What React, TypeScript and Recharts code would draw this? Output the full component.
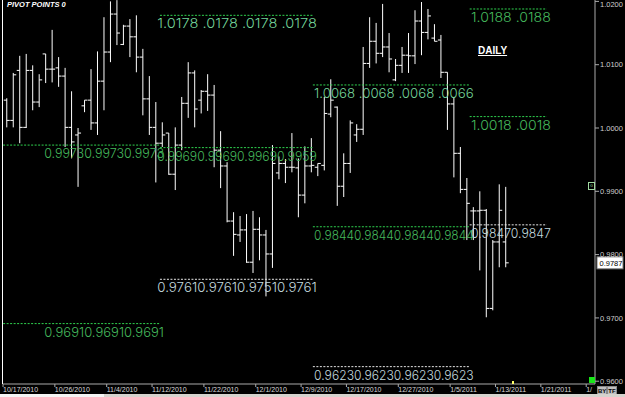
import React from 'react';
import { ComposedChart, Bar, XAxis, YAxis, ReferenceLine } from 'recharts';

// daily OHLC, one entry per bar (Sunday sessions included)
const OPEN = [
  1.0044, 1.0012, 1.0091, 1.0001, 1.0091, 1.0041, 1.0117, 1.0093, 1.0095, 1.0082,
  1.0001, 0.9989, 1.0035, 1.0044, 1.0008, 1.0074, 1.0120, 1.0180, 1.0132, 1.0161,
  1.0144, 1.0112, 1.0046, 1.0001, 0.9976, 0.9992, 0.9927, 0.9973, 1.0039, 1.0087,
  1.0044, 1.0058, 1.0052, 0.9965, 0.9940, 0.9853, 0.9831, 0.9839, 0.9788, 0.9840,
  0.9831, 0.9801, 0.9929, 0.9944, 0.9938, 0.9937, 0.9894, 0.9940, 0.9938, 0.9941,
  1.0022, 1.0033, 0.9908, 0.9944, 0.9989, 0.9998, 1.0102, 1.0137, 1.0118, 1.0128,
  1.0076, 1.0099, 1.0115, 1.0114, 1.0169, 1.0151, 1.0142, 1.0139, 1.0088, 1.0038,
  0.9960, 0.9903, 0.9869, 0.9869, 0.9870, 0.9715, 0.9820, 0.9820,
];
const HIGH = [
  1.0047, 1.0087, 1.0114, 1.0117, 1.0099, 1.0085, 1.0117, 1.0155, 1.0112, 1.0095,
  1.0058, 1.0000, 1.0044, 1.0093, 1.0121, 1.0175, 1.0200, 1.0202, 1.0163, 1.0172,
  1.0178, 1.0125, 1.0082, 1.0041, 1.0009, 0.9992, 1.0001, 1.0049, 1.0104, 1.0091,
  1.0060, 1.0085, 1.0068, 0.9995, 0.9946, 0.9867, 0.9861, 0.9864, 0.9869, 0.9859,
  0.9839, 0.9973, 0.9955, 0.9951, 0.9992, 0.9952, 0.9971, 0.9984, 0.9944, 1.0049,
  1.0077, 1.0034, 0.9960, 1.0012, 1.0006, 1.0128, 1.0175, 1.0166, 1.0196, 1.0150,
  1.0109, 1.0128, 1.0150, 1.0186, 1.0199, 1.0188, 1.0164, 1.0147, 1.0088, 1.0049,
  0.9970, 0.9921, 0.9875, 0.9900, 0.9872, 0.9823, 0.9911, 0.9907,
];
const LOW = [
  1.0001, 1.0001, 0.9976, 1.0000, 1.0028, 1.0033, 1.0071, 1.0072, 1.0065, 0.9970,
  0.9952, 0.9907, 1.0025, 0.9997, 0.9989, 1.0028, 1.0104, 1.0131, 1.0131, 1.0112,
  1.0088, 1.0020, 0.9989, 0.9914, 0.9970, 0.9926, 0.9902, 0.9965, 1.0016, 1.0001,
  1.0023, 1.0027, 0.9938, 0.9905, 0.9851, 0.9798, 0.9820, 0.9787, 0.9771, 0.9791,
  0.9734, 0.9779, 0.9919, 0.9913, 0.9930, 0.9859, 0.9881, 0.9930, 0.9924, 0.9933,
  1.0017, 0.9877, 0.9891, 0.9929, 0.9978, 0.9989, 1.0095, 1.0102, 1.0112, 1.0088,
  1.0074, 1.0087, 1.0087, 1.0101, 1.0115, 1.0140, 1.0137, 1.0079, 0.9997, 0.9922,
  0.9897, 0.9823, 0.9823, 0.9775, 0.9701, 0.9712, 0.9780, 0.9780,
];
const CLOSE = [
  1.0012, 1.0084, 1.0001, 1.0091, 1.0041, 1.0076, 1.0093, 1.0093, 1.0082, 1.0001,
  0.9978, 0.9992, 1.0044, 1.0008, 1.0074, 1.0120, 1.0180, 1.0150, 1.0161, 1.0144,
  1.0112, 1.0046, 1.0001, 0.9976, 0.9989, 0.9927, 0.9973, 1.0039, 1.0087, 1.0030,
  1.0058, 1.0052, 0.9965, 0.9940, 0.9853, 0.9832, 0.9839, 0.9788, 0.9840, 0.9831,
  0.9801, 0.9944, 0.9944, 0.9938, 0.9938, 0.9894, 0.9940, 0.9941, 0.9944, 1.0023,
  1.0044, 0.9908, 0.9944, 1.0008, 0.9998, 1.0102, 1.0137, 1.0118, 1.0128, 1.0109,
  1.0099, 1.0115, 1.0114, 1.0169, 1.0151, 1.0177, 1.0137, 1.0088, 1.0038, 0.9960,
  0.9903, 0.9881, 0.9869, 0.9870, 0.9715, 0.9820, 0.9870, 0.9787,
];

const TICK_INDEX = [0, 8, 16, 23, 31, 39, 46, 53, 61, 69, 76, 83, 90];
const TICK_LABELS = [
  '10/17/2010', '10/26/2010', '11/4/2010', '11/12/2010', '11/22/2010', '12/1/2010',
  '12/9/2010', '12/17/2010', '12/27/2010', '1/5/2011', '1/13/2011', '1/21/2011', '1/30/2011',
];
const PRICE_TICKS = [0.96, 0.97, 0.98, 0.99, 1.0, 1.01, 1.02];

// monthly pivot periods (bar index range)
const SEG_START = [-0.6, 23.6, 47.2, 71.4];
const SEG_END = [23.6, 47.2, 71.4, 83.3];

const PIVOT_SEG = [0, 0, 1, 1, 1, 2, 2, 2, 3, 3, 3];
const PIVOT_VALUE = [0.9973, 0.9691, 1.0178, 0.9969, 0.9761, 1.0068, 0.9844, 0.9623, 1.0188, 1.0018, 0.9847];
const PIVOT_TEXT = [
  '0.99730.99730.9973',
  '0.96910.96910.9691',
  '1.0178 .0178 .0178 .0178',
  '0.99690.99690.99690.9959',
  '0.97610.97610.97510.9761',
  '1.0068 .0068 .0068 .0066',
  '0.98440.98440.98440.9844',
  '0.96230.96230.96230.9623',
  '1.0188 .0188',
  '1.0018 .0018',
  '0.98470.9847',
];
const PIVOT_KIND = ['g', 'g', 'm', 'g', 'w', 'm', 'g', 'w', 'g', 'g', 'w'];

const LAST_PRICE = 0.9787;

const LINE_COLOR: Record<string, string> = { g: '#2fd24f', m: '#2fd24f', w: '#e8e8e8' };
const TEXT_COLOR: Record<string, string> = { g: '#45b85c', m: '#74d49a', w: '#c2d8de' };

const data = OPEN.map((o, i) => ({
  i,
  open: o,
  high: HIGH[i],
  low: LOW[i],
  close: CLOSE[i],
  range: [LOW[i], HIGH[i]],
}));

const OhlcBar = (props: any) => {
  const { x, y, width, height, payload } = props;
  if (x == null || payload == null) return null;
  const cx = x + width / 2;
  const top = Math.min(y, y + height);
  const bot = Math.max(y, y + height);
  const span = payload.high - payload.low || 1;
  const py = (v: number) => top + ((payload.high - v) / span) * (bot - top);
  return (
    <g stroke="#ffffff" strokeWidth={1}>
      <line x1={cx} y1={top} x2={cx} y2={bot} />
      <line x1={cx - 3} y1={py(payload.open)} x2={cx} y2={py(payload.open)} />
      <line x1={cx} y1={py(payload.close)} x2={cx + 3} y2={py(payload.close)} />
    </g>
  );
};

const DateTick = (props: any) => {
  const { x, y, payload } = props;
  const k = TICK_INDEX.indexOf(payload.value);
  const last = k === TICK_INDEX.length - 1;
  return (
    <g>
      <line x1={x - 4} y1={y} x2={x - 4} y2={y + 3} stroke="#aaa" />
      <text x={x - 4} y={y + 8} fill="#d8d8d8" fontSize={7} fontFamily="Liberation Sans, Arial">
        {k >= 0 ? (last ? TICK_LABELS[k].slice(0, 2) : TICK_LABELS[k]) : ''}
      </text>
    </g>
  );
};

const pivotLabel = (text: string, color: string) => (props: any) => {
  const vb = props.viewBox || {};
  const x = (vb.x || 0) + (vb.width || 0) + 4;
  const y = (vb.y || 0) + 13;
  return (
    <text
      x={x}
      y={y}
      fill={color}
      fontSize={13.5}
      fontWeight={300}
      fontFamily="Inter, DejaVu Sans Mono, monospace"
      textAnchor="end"
      textLength={text.length * 6.65}
      lengthAdjust="spacingAndGlyphs"
    >
      {text}
    </text>
  );
};

const priceBox = (props: any) => {
  const vb = props.viewBox || {};
  const x = (vb.x || 0) + (vb.width || 0) + 2;
  const y = vb.y || 0;
  return (
    <g>
      <rect x={x} y={y - 6} width={26} height={12} fill="#ffffff" stroke="#777" />
      <text x={x + 2.5} y={y + 3} fill="#000" fontSize={7.5} fontFamily="Liberation Sans, Arial">
        {LAST_PRICE.toFixed(4)}
      </text>
    </g>
  );
};

export default function App() {
  return (
    <div style={{ position: 'absolute', left: 0, top: 0, width: 625, height: 397, background: '#000', overflow: 'hidden' }}>
      <ComposedChart
        width={625}
        height={397}
        data={data}
        margin={{ top: 0, right: 0, bottom: 0, left: 3 }}
        style={{ fontFamily: 'Liberation Sans, Arial' }}
      >
        <XAxis
          dataKey="i"
          type="number"
          domain={[-0.62, 90.74]}
          allowDataOverflow
          ticks={TICK_INDEX}
          interval={0}
          height={13}
          tickSize={0}
          tickMargin={0}
          axisLine={{ stroke: '#aaa' }}
          tickLine={false}
          tick={<DateTick />}
        />
        <YAxis
          orientation="right"
          type="number"
          domain={[0.95956, 1.02022]}
          allowDataOverflow
          ticks={PRICE_TICKS}
          width={30}
          tickSize={4}
          tickMargin={1}
          axisLine={{ stroke: '#aaa' }}
          tickLine={{ stroke: '#aaa' }}
          tick={{ fill: '#cfcfcf', fontSize: 7.5, textAnchor: 'start' }}
          tickFormatter={(v: number) => v.toFixed(4)}
        />
        {PIVOT_VALUE.map((v, k) => (
          <ReferenceLine
            key={k}
            segment={[
              { x: SEG_START[PIVOT_SEG[k]], y: v },
              { x: SEG_END[PIVOT_SEG[k]], y: v },
            ]}
            stroke={LINE_COLOR[PIVOT_KIND[k]]}
            strokeDasharray="2 1.5"
            ifOverflow="visible"
            label={pivotLabel(PIVOT_TEXT[k], TEXT_COLOR[PIVOT_KIND[k]])}
          />
        ))}
        <Bar dataKey="range" barSize={4} shape={<OhlcBar />} isAnimationActive={false} />
        <ReferenceLine y={LAST_PRICE} stroke="none" ifOverflow="visible" label={priceBox} />
      </ComposedChart>

      {/* left frame line */}
      <div style={{ position: 'absolute', left: 2, top: 0, width: 1, height: 384, background: '#fff' }} />
      <div
        style={{
          position: 'absolute', left: 7, top: 0, fontFamily: 'Liberation Sans, Arial', fontSize: 7.5,
          fontWeight: 'bold', fontStyle: 'italic', color: '#fff', lineHeight: '10px',
        }}
      >
        PIVOT POINTS 0
      </div>
      <div
        style={{
          position: 'absolute', left: 478, top: 45, fontFamily: 'Liberation Sans, Arial', fontSize: 10,
          fontWeight: 'bold', color: '#fff', textDecoration: 'underline', lineHeight: '12px',
        }}
      >
        DAILY
      </div>
      {/* small markers on the price axis */}
      <div style={{ position: 'absolute', left: 588, top: 182, width: 5, height: 6, border: '1px solid #9fd99f', fontSize: 5, color: '#9fd99f', lineHeight: '6px', textAlign: 'center' }}>0</div>
      <div style={{ position: 'absolute', left: 589, top: 377, width: 6, height: 6, background: '#19e619' }} />
      <div style={{ position: 'absolute', left: 512, top: 381, width: 2, height: 3, background: '#ffff66' }} />
      <div style={{ position: 'absolute', left: 597, top: 386, width: 8, height: 8, background: '#bfbfbf', border: '1px solid #888', fontSize: 6, fontWeight: 'bold', lineHeight: '8px', textAlign: 'center', fontFamily: 'Liberation Sans, Arial' }}>BY</div>
      <div style={{ position: 'absolute', left: 607, top: 386, width: 8, height: 8, background: '#bfbfbf', border: '1px solid #888', fontSize: 6, fontWeight: 'bold', lineHeight: '8px', textAlign: 'center', fontFamily: 'Liberation Sans, Arial' }}>TF</div>
      {/* scroll strip */}
      <div style={{ position: 'absolute', left: 0, top: 394, width: 625, height: 3, background: '#d6d3ce' }} />
      <div style={{ position: 'absolute', left: 0, top: 394, width: 104, height: 3, background: '#f4f4f4' }} />
    </div>
  );
}
